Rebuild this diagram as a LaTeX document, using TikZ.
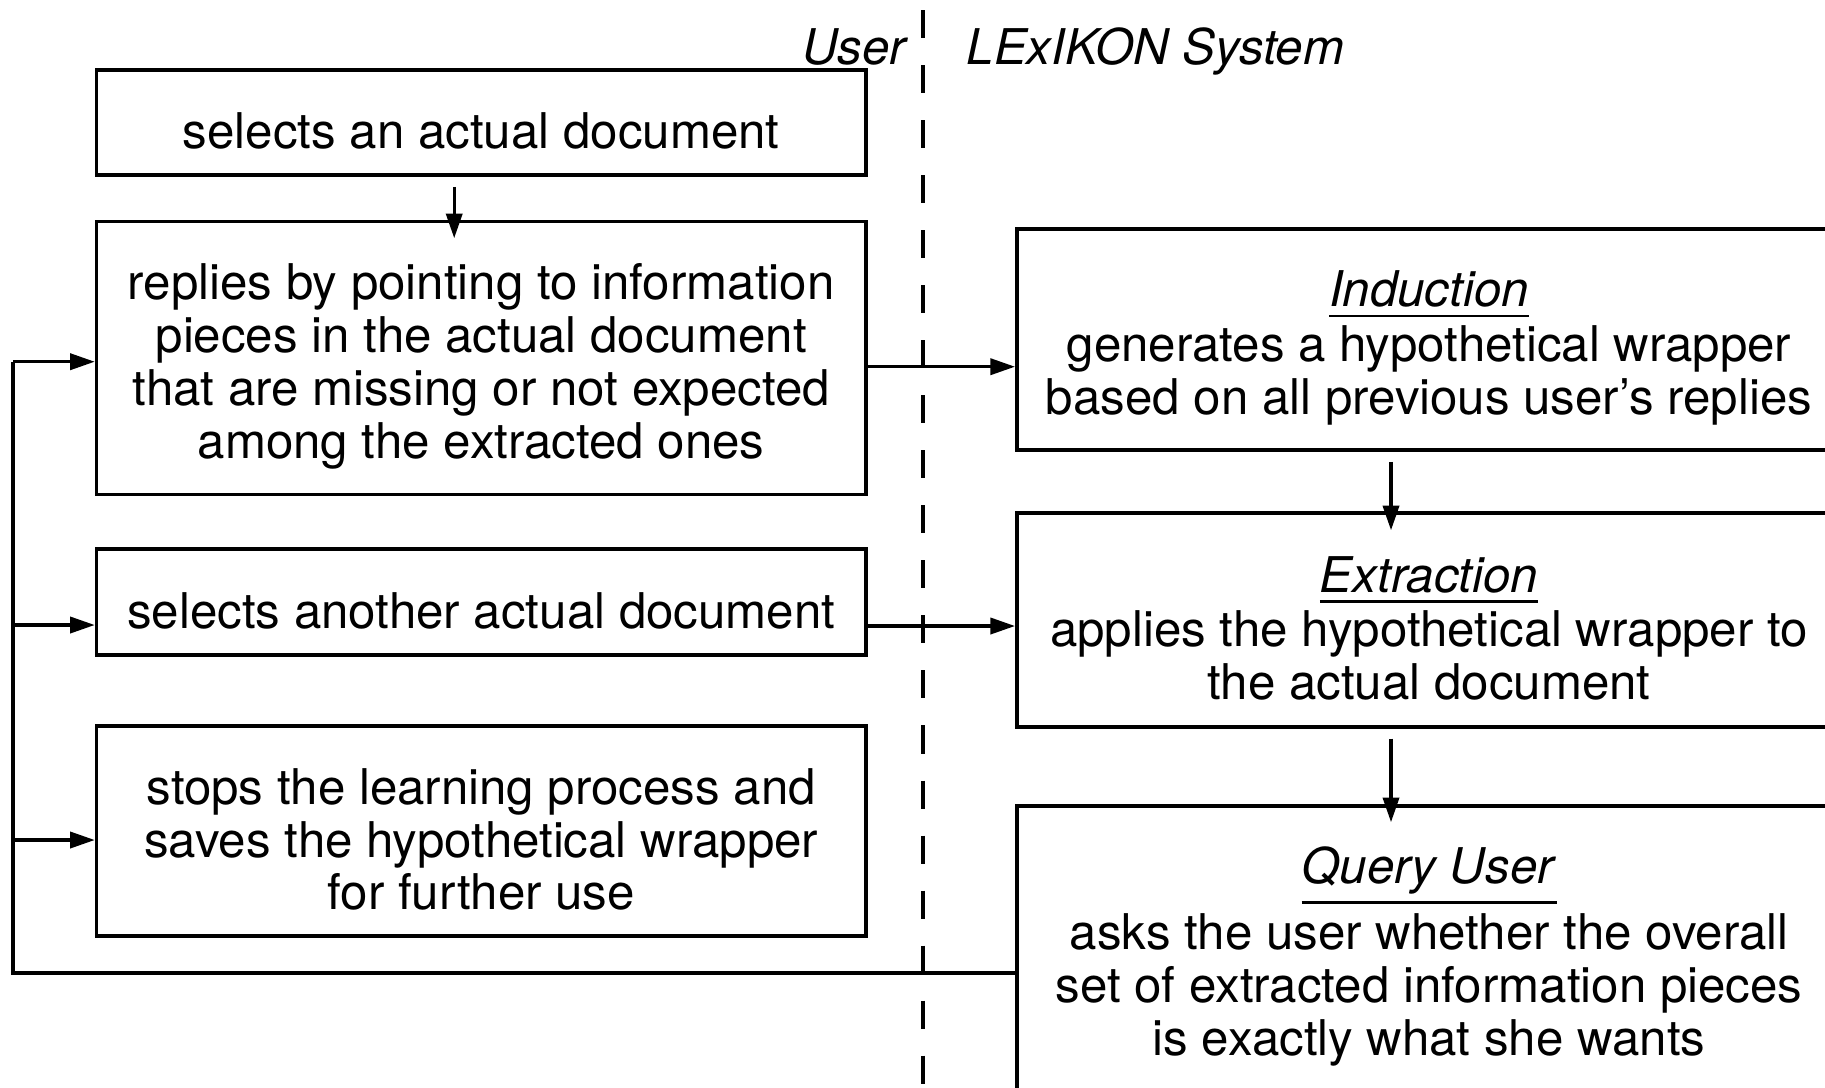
\documentclass[tikz,border=0pt]{standalone}
\usepackage{fontspec}
\setmainfont{TeX Gyre Heros}
\usetikzlibrary{arrows.meta,calc}
\newcommand\myTopStrut{\rule{0pt}{15pt}}
\newcommand\myUl[1]{\leavevmode\vtop{\hbox{#1}\kern2pt\hrule height 0.75pt}}
\begin{document}
\begin{tikzpicture}[x=0.01cm,y=-0.01cm,
  box/.style={draw,line width=1pt,rectangle,align=center,inner sep=0pt,
    font=\fontsize{14}{15}\selectfont},
  lbl/.style={inner sep=0pt,font=\fontsize{14}{15}\selectfont\itshape},
  conn/.style={line width=0.9pt},
  arr/.style={line width=0.9pt,-{Triangle[length=7pt,width=4.6pt]}},
  sep/.style={line width=1pt,dash pattern=on 7.97pt off 7.68pt}
  ]
\path[use as bounding box, clip] (0,0) rectangle (1825,1087);

% user side
\node[box,minimum width=7.69cm,minimum height=1.05cm] (b1) at (481.2,122.5)
  {\myTopStrut selects an actual document};
\node[box,minimum width=7.69cm,minimum height=2.73cm] (b2) at (481.2,358)
  {\myTopStrut replies by pointing to information\\pieces in the actual document\\that are missing or not expected\\among the extracted ones};
\node[box,minimum width=7.69cm,minimum height=1.06cm] (b3) at (481.2,602)
  {\myTopStrut selects another actual document};
\node[box,minimum width=7.69cm,minimum height=2.10cm] (b4) at (481.2,831)
  {\myTopStrut stops the learning process and\\saves the hypothetical wrapper\\for further use};

% system side
\node[box,minimum width=8.24cm,minimum height=2.21cm] (ind) at (1429,339.5)
  {\myTopStrut\myUl{\textit{Induction}}\\[0.5pt]generates a hypothetical wrapper\\based on all previous user's replies};
\node[box,minimum width=8.24cm,minimum height=2.137cm] (ext) at (1429,619.9)
  {\myTopStrut\myUl{\textit{Extraction}}\\[0.5pt]applies the hypothetical wrapper to\\the actual document};
\node[box,minimum width=8.24cm,minimum height=3.01cm] (q) at (1429,956.5)
  {\myUl{\textit{Query User}}\\[1.8pt]asks the user whether the overall\\set of extracted information pieces\\is exactly what she wants};

% headings
\node[lbl,anchor=base east] (user) at (907,64) {User};
\node[lbl,anchor=base west] (lex) at (966,64) {LExIKON System};

% separator
\coordinate (sepTop) at (923,10);
\coordinate (sepBot) at (923,1110);
\draw[sep] (sepTop) -- (sepBot);

% vertical arrows
\draw[arr] ($(b1.south)+(-27,10)$) -- ($(b2.north)+(-27,18.5)$);
\draw[arr] ($(ind.south)+(-38,10)$) -- ($(ext.north)+(-38,19)$);
\draw[arr] ($(ext.south)+(-38,10)$) -- ($(q.north)+(-38,18)$);

% horizontal arrows to the system
\coordinate (h1) at ($(b2.east)+(0,8.7)$);
\coordinate (h2) at ($(b3.east)+(0,24)$);
\draw[arr] (h1) -- (h1 -| ind.west);
\draw[arr] (h2) -- (h2 -| ext.west);

% feedback loop
\coordinate (l2) at (13,361.7);
\coordinate (l3) at (13,625);
\coordinate (l4) at (13,840);
\coordinate (l5) at (13,973);
\draw[conn] (l5 -| q.west) -- (l5) -- (l2);
\draw[arr] (l2) -- (l2 -| b2.west);
\draw[arr] (l3) -- (l3 -| b3.west);
\draw[arr] (l4) -- (l4 -| b4.west);
\end{tikzpicture}
\end{document}
